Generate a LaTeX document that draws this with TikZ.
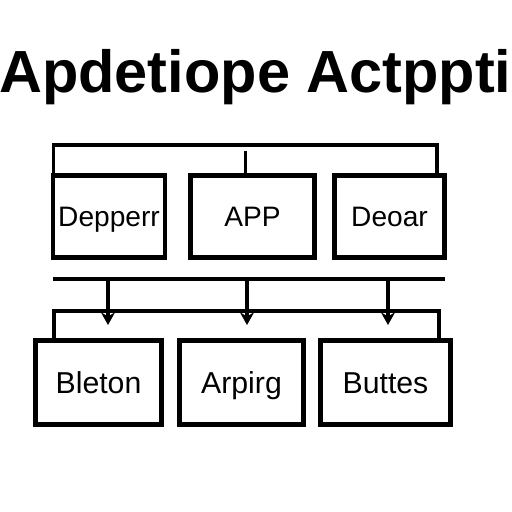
\documentclass[tikz,border=0pt]{standalone}
\usepackage{fontspec}
\setmainfont{Liberation Sans}
\usetikzlibrary{positioning, calc, arrows.meta}

\tikzset{
  blk/.style={draw, line width=3.2pt, minimum height=2.05cm, inner sep=0pt,
              font=\fontsize{20}{22}\selectfont, text height=14.3pt, text depth=0pt},
  lowblk/.style={blk, minimum height=2.1cm,
              font=\fontsize{21.5}{24}\selectfont, text height=15.4pt},
  wire/.style={line width=2.5pt},
  arr/.style={wire, -{Stealth[length=9pt, width=10pt]}},
}

\begin{document}
\begin{tikzpicture}[x=0.025cm, y=-0.025cm]
    \useasboundingbox[fill=white] (0,0) rectangle (512,512);

    % --- Heading ---
    \node[anchor=base west, inner sep=0pt, font=\fontsize{42.3}{48}\selectfont\bfseries] (head) at (-1,93) {Apdetiope Actppti};

    % --- Top row ---
    \node[blk, minimum width=2.8cm]  (dep) at (109,216.5)   {Depperr};
    \node[blk, minimum width=3.1cm]  (app) at (252.5,216.5) {APP};
    \node[blk, minimum width=2.75cm] (deo) at (389.5,216.5) {Deoar};

    % bracket over the top row
    \draw[wire] ($(dep.north west)+(3,0)$) |- ($(deo.north east)+(-10,-28)$)
                -- ($(deo.north east)+(-10,0)$);
    \draw[wire] ($(app.north)+(-7,0)$) -- ++(0,-22);

    % --- Bottom row ---
    \node[lowblk, minimum width=3.15cm] (ble) at (98.5,382.5)  {Bleton};
    \node[lowblk, minimum width=3.1cm]  (arp) at (241.5,382.5) {Arpirg};
    \node[lowblk, minimum width=3.25cm] (but) at (385.5,382.5) {Buttes};

    % bus line between the rows
    \coordinate (busL) at (53,279);
    \coordinate (busR) at (445,279);
    \draw[wire] (busL) -- (busR);

    % bracket over the bottom row
    \draw[wire] ($(ble.north west)+(21,0)$) |- ($(but.north east)+(-14,-27)$)
                -- ($(but.north east)+(-14,0)$);

    % arrows from the bus
    \draw[arr] (busL -| ble.north) ++(9.5,0) -- ++(0,46);
    \draw[arr] (busL -| arp.north) ++(5.5,0) -- ++(0,46);
    \draw[arr] (busL -| but.north) ++(2.5,0) -- ++(0,46);

\end{tikzpicture}
\end{document}
